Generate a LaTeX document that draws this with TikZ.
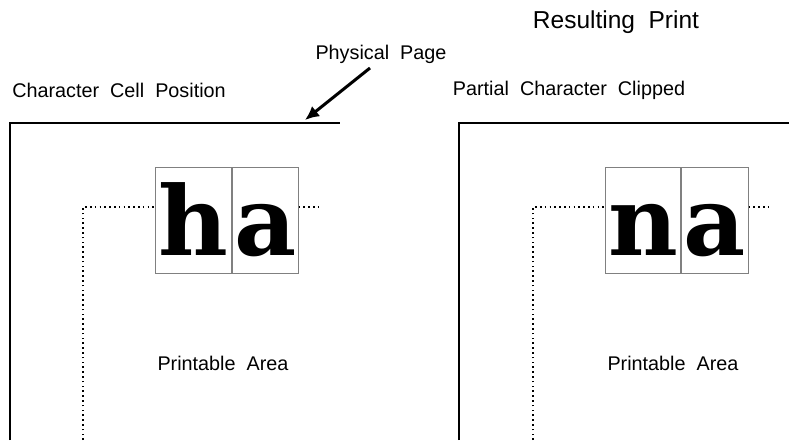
\documentclass[tikz,border=0pt]{standalone}
\usepackage{fontspec}
\setmainfont{Liberation Sans}
\newfontfamily\cellfont{DejaVu Serif}
\usetikzlibrary{positioning,arrows.meta}

\begin{document}
\begin{tikzpicture}[x=1pt,y=-1pt,
  caption/.style={font=\fontsize{19.8}{22}\selectfont,inner sep=0pt},
  cell/.style={draw=gray,line width=0.8pt,minimum height=106pt,inner sep=0pt,
    text height=88pt,text depth=18pt,
    font=\cellfont\bfseries\fontsize{96}{96}\selectfont},
  page/.style={line width=2.4pt},
  margin/.style={line width=2.6pt,dash pattern=on 1.6pt off 3.2pt}]

\useasboundingbox (0,0) rectangle (789,440);

% titles
\node[caption,font=\fontsize{24.5}{26}\selectfont](title) at (616,22){Resulting\ \ Print};
\node[caption](phys) at (381,54){Physical\ \ Page};
\node[caption](left) at (119,90){Character\ \ Cell\ \ Position};
\node[caption](right) at (569,90){Partial\ \ Character\ \ Clipped};

% left page
\coordinate(lp0) at (10,440);
\coordinate(lp1) at (10,123);
\coordinate(lp2) at (340,123);
\draw[page](lp0)--(lp1)--(lp2);
\coordinate(tip) at (305,120);
\coordinate(tail) at (370,68);
\draw[line width=3pt,-{Latex[length=14pt,width=13pt]}](tail)--(tip);

\node[cell,minimum width=76pt,anchor=north west](h) at (155,167){h};
\node[cell,minimum width=66pt,right=0pt of h](ha){a};

\coordinate(lm0) at (83,440);
\coordinate(lm1) at (83,207);
\coordinate(lm2) at (322,207);
\draw[margin](lm0)--(lm1)--(lm1-|h.west);
\draw[margin](lm2-|ha.east)--(lm2);
\node[caption](lpa) at (223,363){Printable\ \ Area};

% right page
\coordinate(rp0) at (459,440);
\coordinate(rp1) at (459,123);
\coordinate(rp2) at (789,123);
\draw[page](rp0)--(rp1)--(rp2);

\node[cell,minimum width=75pt,anchor=north west](n) at (605,167){n};
\node[cell,minimum width=67pt,right=0pt of n](na){a};

\coordinate(rm0) at (533,440);
\coordinate(rm1) at (533,207);
\coordinate(rm2) at (772,207);
\draw[margin](rm0)--(rm1)--(rm1-|n.west);
\draw[margin](rm2-|na.east)--(rm2);
\node[caption](rpa) at (673,363){Printable\ \ Area};

\end{tikzpicture}
\end{document}
